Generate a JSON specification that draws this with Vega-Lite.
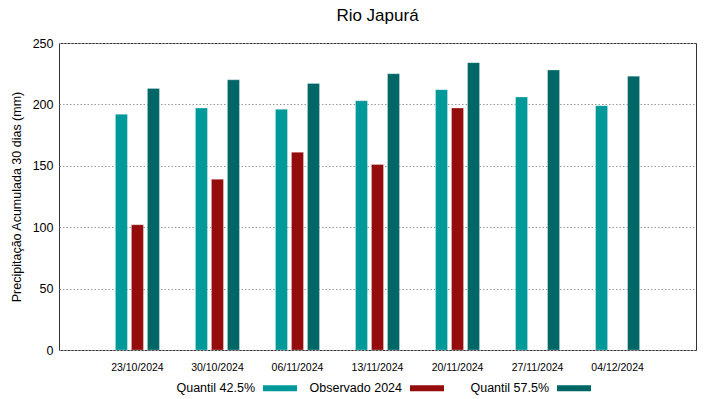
{
  "$schema": "https://vega.github.io/schema/vega-lite/v6.json",
  "width": 637,
  "height": 307,
  "autosize": {"type": "none"},
  "padding": {"left": 59, "top": 43, "right": 23, "bottom": 49},
  "background": "white",
  "config": {
    "font": "Liberation Sans",
    "view": {"stroke": "#333333", "strokeWidth": 1}
  },
  "title": {
    "text": "Rio Japurá",
    "fontSize": 17,
    "fontWeight": "normal",
    "color": "#000000",
    "offset": 12,
    "anchor": "middle"
  },
  "data": {
    "values": [
      {"date": "23/10/2024", "serie": "Quantil 42.5%", "value": 192},
      {"date": "23/10/2024", "serie": "Observado 2024", "value": 102},
      {"date": "23/10/2024", "serie": "Quantil 57.5%", "value": 213},
      {"date": "30/10/2024", "serie": "Quantil 42.5%", "value": 197},
      {"date": "30/10/2024", "serie": "Observado 2024", "value": 139},
      {"date": "30/10/2024", "serie": "Quantil 57.5%", "value": 220},
      {"date": "06/11/2024", "serie": "Quantil 42.5%", "value": 196},
      {"date": "06/11/2024", "serie": "Observado 2024", "value": 161},
      {"date": "06/11/2024", "serie": "Quantil 57.5%", "value": 217},
      {"date": "13/11/2024", "serie": "Quantil 42.5%", "value": 203},
      {"date": "13/11/2024", "serie": "Observado 2024", "value": 151},
      {"date": "13/11/2024", "serie": "Quantil 57.5%", "value": 225},
      {"date": "20/11/2024", "serie": "Quantil 42.5%", "value": 212},
      {"date": "20/11/2024", "serie": "Observado 2024", "value": 197},
      {"date": "20/11/2024", "serie": "Quantil 57.5%", "value": 234},
      {"date": "27/11/2024", "serie": "Quantil 42.5%", "value": 206},
      {"date": "27/11/2024", "serie": "Quantil 57.5%", "value": 228},
      {"date": "04/12/2024", "serie": "Quantil 42.5%", "value": 199},
      {"date": "04/12/2024", "serie": "Quantil 57.5%", "value": 223}
    ]
  },
  "mark": {"type": "bar", "stroke": "#ffffff", "strokeOpacity": 0.35, "strokeWidth": 0.8},
  "encoding": {
    "x": {
      "field": "date",
      "type": "nominal",
      "sort": null,
      "scale": {"paddingInner": 0.4, "paddingOuter": 0.68},
      "axis": {
        "title": null,
        "labelAngle": 0,
        "labelFontSize": 10.5,
        "labelColor": "#000000",
        "labelPadding": 12,
        "labelDx": 7,
        "ticks": false,
        "domain": false,
        "grid": false
      }
    },
    "xOffset": {
      "field": "serie",
      "type": "nominal",
      "sort": ["Quantil 42.5%", "Observado 2024", "Quantil 57.5%"],
      "scale": {"paddingInner": 0.25, "paddingOuter": 0.125}
    },
    "y": {
      "field": "value",
      "type": "quantitative",
      "scale": {"domain": [0, 250], "nice": false},
      "axis": {
        "title": "Precipitação Acumulada 30 dias (mm)",
        "titleFontSize": 12.5,
        "titleFontWeight": "normal",
        "titleColor": "#000000",
        "titlePadding": 9,
        "values": [0, 50, 100, 150, 200, 250],
        "labelFontSize": 12.5,
        "labelColor": "#000000",
        "labelPadding": 6,
        "ticks": false,
        "domain": false,
        "grid": true,
        "gridColor": "#999999",
        "gridDash": [1.5, 2],
        "gridWidth": 1
      }
    },
    "color": {
      "field": "serie",
      "type": "nominal",
      "sort": ["Quantil 42.5%", "Observado 2024", "Quantil 57.5%"],
      "scale": {
        "domain": ["Quantil 42.5%", "Observado 2024", "Quantil 57.5%"],
        "range": ["#009999", "#940c0c", "#006666"]
      },
      "legend": {
        "title": null,
        "orient": "none",
        "direction": "horizontal",
        "legendX": 204,
        "legendY": 328,
        "gridAlign": "all",
        "columnPadding": 12,
        "symbolType": "M-1,-0.18H1V0.18H-1Z",
        "symbolSize": 1156,
        "symbolStrokeWidth": 0,
        "labelAlign": "right",
        "labelOffset": -42,
        "labelFontSize": 12.5,
        "labelColor": "#000000"
      }
    }
  }
}
